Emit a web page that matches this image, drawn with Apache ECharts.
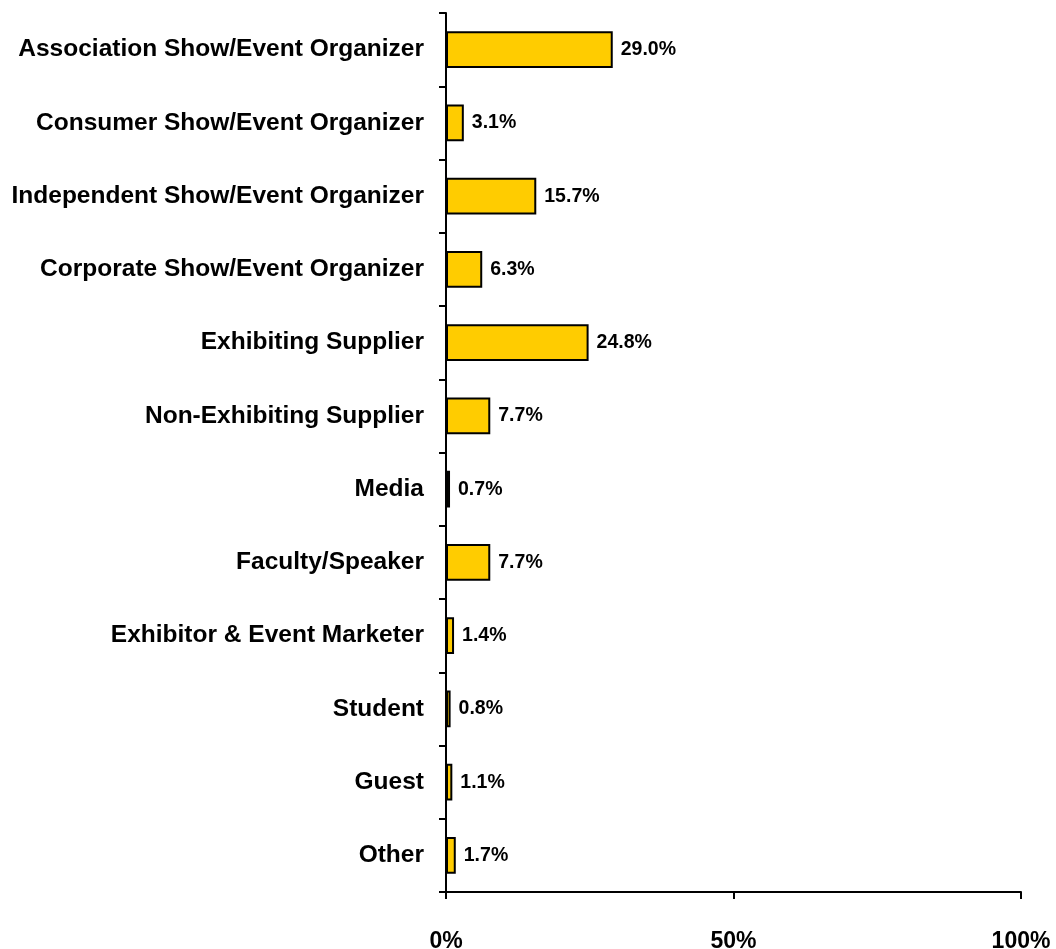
<!DOCTYPE html>
<html>
<head>
<meta charset="utf-8">
<script src="https://cdn.jsdelivr.net/npm/echarts@6/dist/echarts.min.js"></script>
<style>
  html, body { margin: 0; padding: 0; background: #fff; }
  #chart { width: 1056px; height: 949px; }
</style>
</head>
<body>
<div id="chart"></div>
<script>
// Respondent roles, listed top to bottom
const categories = [
  'Association Show/Event Organizer',
  'Consumer Show/Event Organizer',
  'Independent Show/Event Organizer',
  'Corporate Show/Event Organizer',
  'Exhibiting Supplier',
  'Non-Exhibiting Supplier',
  'Media',
  'Faculty/Speaker',
  'Exhibitor & Event Marketer',
  'Student',
  'Guest',
  'Other'
];
// Share of respondents, percent
const shares = [29.0, 3.1, 15.7, 6.3, 24.8, 7.7, 0.7, 7.7, 1.4, 0.8, 1.1, 1.7];
// Percent axis ticks
const xTicks = [0, 50, 100];

const FONT = '"Liberation Sans", Arial, sans-serif';
const chart = echarts.init(document.getElementById('chart'));
chart.setOption({
  animation: false,
  backgroundColor: '#ffffff',
  grid: {
    left: 446, top: 13, right: 35, bottom: 57,
    containLabel: false,
    outerBoundsMode: 'none'
  },
  xAxis: {
    type: 'value',
    min: xTicks[0],
    max: xTicks[xTicks.length - 1],
    interval: xTicks[1] - xTicks[0],
    axisLine: { show: true, lineStyle: { color: '#000', width: 2 } },
    axisTick: { show: true, length: 7, lineStyle: { color: '#000', width: 2 } },
    splitLine: { show: false },
    axisLabel: {
      formatter: '{value}%',
      margin: 38,
      color: '#000',
      fontFamily: FONT,
      fontWeight: 'bold',
      fontSize: 23
    }
  },
  yAxis: {
    type: 'category',
    data: categories,
    inverse: true,
    axisLine: { show: true, lineStyle: { color: '#000', width: 2 } },
    axisTick: { show: true, length: 7, lineStyle: { color: '#000', width: 2 } },
    splitLine: { show: false },
    axisLabel: {
      margin: 22,
      color: '#000',
      fontFamily: FONT,
      fontWeight: 'bold',
      fontSize: 24.5
    }
  },
  series: [{
    type: 'bar',
    data: shares,
    barWidth: '50%',
    itemStyle: { color: '#FFCC00', borderColor: '#000', borderWidth: 2 },
    label: {
      show: true,
      position: 'right',
      distance: 8,
      formatter: p => p.value.toFixed(1) + '%',
      color: '#000',
      fontFamily: FONT,
      fontWeight: 'bold',
      fontSize: 19.5
    }
  }]
});
</script>
</body>
</html>
